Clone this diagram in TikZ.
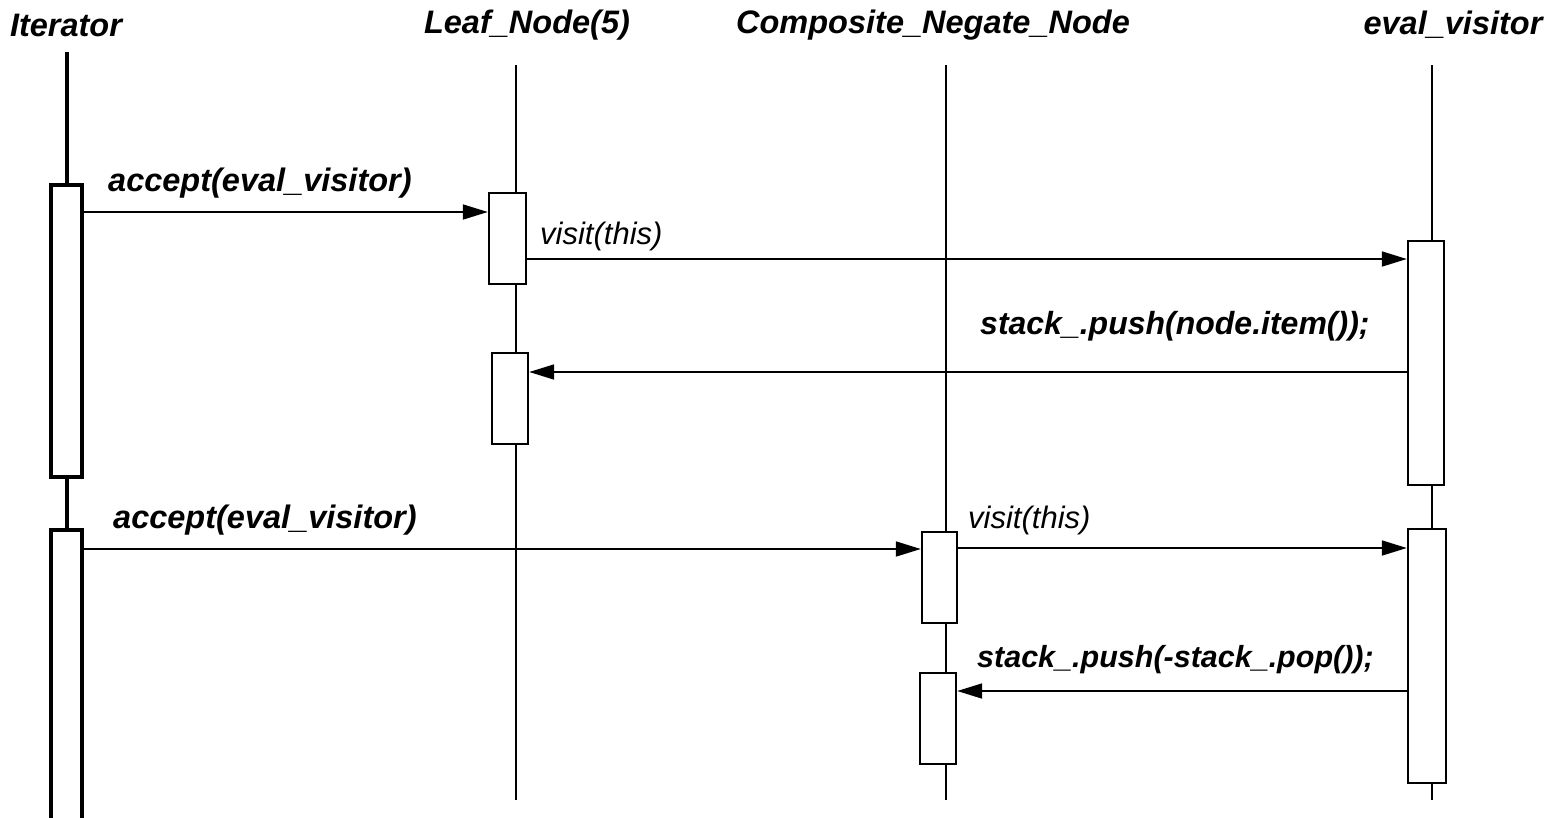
\documentclass[tikz,border=0pt]{standalone}
\usepackage{fontspec}
\setmainfont{Liberation Sans}
\usetikzlibrary{arrows.meta}
\begin{document}
\begin{tikzpicture}[x=1pt,y=-1pt,
  lifeline/.style={line width=1.8pt},
  actbox/.style={draw, fill=white, line width=2.4pt, rectangle, inner sep=0pt},
  itbox/.style={actbox, line width=4pt},
  msg/.style={line width=1.8pt, -{Triangle[length=25pt,width=15pt]}},
  head/.style={font=\fontsize{32.5}{38}\selectfont\bfseries\itshape, inner sep=0pt},
  boldlbl/.style={font=\fontsize{32.5}{38}\selectfont\bfseries\itshape, inner sep=0pt, anchor=west},
  codelbl/.style={boldlbl, font=\fontsize{#1}{38}\selectfont\bfseries\itshape},
  lbl/.style={font=\fontsize{31}{37}\selectfont\itshape, inner sep=0pt, anchor=west}]
\useasboundingbox (0,0) rectangle (1544,817);

% object headers
\node[head] (hIt)   at (66,25)   {Iterator};
\node[head] (hLeaf) at (527,25)  {Leaf\_Node(5)};
\node[head] (hComp) at (933,25)  {Composite\_Negate\_Node};
\node[head] (hEval) at (1453,25) {eval\_visitor};

% lifelines
\coordinate (lt) at (516,65);   \coordinate (lb) at (516,800);
\coordinate (ct) at (946,65);   \coordinate (cb) at (946,800);
\coordinate (et) at (1432,65);  \coordinate (eb) at (1432,800);
\coordinate (it) at (66.5,52);
\draw[lifeline] (lt) -- (lb);
\draw[lifeline] (ct) -- (cb);
\draw[lifeline] (et) -- (eb);

% Iterator activations
\node[itbox, minimum width=31pt, minimum height=292pt] (it1) at (66.5,331) {};
\node[itbox, minimum width=31pt, minimum height=292pt] (it2) at (66.5,676) {};
\draw[line width=4pt] (it) -- (it1.north);
\draw[line width=4pt] (it1.south) -- (it2.north);

% Leaf_Node activations
\node[actbox, minimum width=37pt, minimum height=91pt] (a1) at (507.5,238.5) {};
\node[actbox, minimum width=36pt, minimum height=91pt] (a2) at (510,398.5) {};

% Composite_Negate_Node activations
\node[actbox, minimum width=35pt, minimum height=91pt] (c1) at (939.5,577.5) {};
\node[actbox, minimum width=36pt, minimum height=91pt] (c2) at (938,718.5) {};

% eval_visitor activations
\node[actbox, minimum width=36pt, minimum height=244pt] (e1) at (1426,363) {};
\node[actbox, minimum width=38pt, minimum height=254pt] (e2) at (1427,656) {};

% messages
\draw[msg] (it1.east |- 0,212) -- (a1.west |- 0,212);
\draw[msg] (a1.east |- 0,259) -- (e1.west |- 0,259);
\draw[msg] (e1.west |- 0,372) -- (a2.east |- 0,372);
\draw[msg] (it2.east |- 0,549) -- (c1.west |- 0,549);
\draw[msg] (c1.east |- 0,548) -- (e2.west |- 0,548);
\draw[msg] (e2.west |- 0,691) -- (c2.east |- 0,691);

% message labels
\node[boldlbl]      (m1) at (108,183) {accept(eval\_visitor)};
\node[lbl]          (m2) at (540,236) {visit(this)};
\node[codelbl=32]   (m3) at (980,326) {stack\_.push(node.item());};
\node[boldlbl]      (m4) at (113,520) {accept(eval\_visitor)};
\node[lbl]          (m5) at (968,520) {visit(this)};
\node[codelbl=30.5] (m6) at (977,660) {stack\_.push(-stack\_.pop());};
\end{tikzpicture}
\end{document}
